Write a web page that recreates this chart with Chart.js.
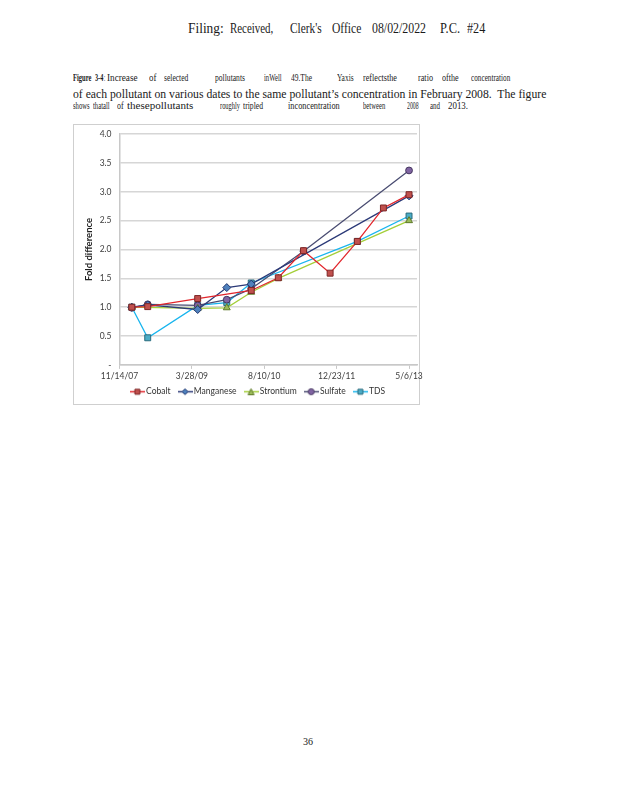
<!DOCTYPE html>
<html>
<head>
<meta charset="utf-8">
<script src="https://cdn.jsdelivr.net/npm/chart.js@4.4.1/dist/chart.umd.min.js"></script>
<style>
html, body { margin: 0; padding: 0; background: #fff; }
body { width: 618px; height: 800px; position: relative; overflow: hidden; font-family: "Liberation Serif", serif; color: #1a1a1a; }
.w { position: absolute; white-space: pre; transform-origin: 0 50%; line-height: 1; }
#box { position: absolute; left: 73px; top: 124px; width: 347px; height: 281px; border: 1px solid #cfcfcf; box-sizing: border-box; }
#wrap { position: absolute; left: 73px; top: 121px; width: 356px; height: 292.4px; }
</style>
</head>
<body>
<div id="box"></div>
<div id="wrap"><canvas id="chart"></canvas></div>
<script>
// sample dates and fold-difference values per pollutant
const sampleDates = ['2008-02-07', '2008-05-27', '2009-05-07', '2009-11-24', '2010-05-12', '2010-11-15',
                     '2011-05-08', '2011-11-08', '2012-05-14', '2012-11-10', '2013-05-06'];
const seriesNames = ['Cobalt', 'Manganese', 'Strontium', 'Sulfate', 'TDS'];
const cobalt    = [1.00, 1.01, 1.15, null, 1.29, 1.51, 1.98, 1.59, 2.14, 2.72, 2.95];
const manganese = [1.00, 1.04, 0.96, 1.34, 1.40, null, null, null, null, null, 2.93];
const strontium = [1.00, null, 0.98, 0.99, 1.26, 1.50, null, null, null, null, 2.50];
const sulfate   = [0.99, 1.05, 1.03, 1.13, 1.32, null, 1.97, null, null, null, 3.37];
const tds       = [1.00, 0.47, 1.03, 1.08, 1.42, null, null, null, 2.14, null, 2.58];
const seriesValues = [cobalt, manganese, strontium, sulfate, tds];

// axis settings
const axisStart = '2007-11-14';
const axisStepDays = 500;
const axisEndDays = 2055;
const yMax = 4;
const yStep = 0.5;

// look of each series
const seriesStyle = [
    { line: '#e2262c', fill: '#c0504d', edge: '#7d2727', shape: 'rect',     radius: 4.2 },
    { line: '#2c3a78', fill: '#4f81bd', edge: '#22376e', shape: 'rectRot',  radius: 4 },
    { line: '#a4cf3a', fill: '#9bbb59', edge: '#5f7a2a', shape: 'triangle', radius: 4 },
    { line: '#4a4d72', fill: '#8064a2', edge: '#45365f', shape: 'circle',   radius: 3.4 },
    { line: '#19b5ee', fill: '#4bacc6', edge: '#2a6b7d', shape: 'rect',     radius: 4.2 }
];

// page text: [text, left, right, bold]
const headerWords = [['Filing:', 188.3, 224], ['Received,', 230, 273.3], ["Clerk's", 290, 321.7], ['Office', 331.7, 361],
                     ['08/02/2022', 371.7, 425.7], ['P.C.', 440, 460], ['#24', 466.7, 485]];
const captionLine1 = [['Figure', 73.3, 91.7, 1], ['3-4', 95, 103.3, 1], [':', 104.3, 105.5], ['Increase', 106.7, 137.3],
                      ['of', 149.3, 156.7], ['selected', 164, 188.3], ['pollutants', 215, 245], ['inWell', 264, 281.7],
                      ['49.The', 290.7, 311.7], ['Yaxis', 336.7, 353.3], ['reflectsthe', 362.7, 396.7], ['ratio', 418.3, 433.3],
                      ['ofthe', 441.7, 458.3], ['concentration', 470.7, 510]];
const captionLine2 = [['of each pollutant on various dates to the same pollutant\u2019s concentration in February 2008.  The figure', 73.3, 546.7]];
const captionLine3 = [['shows', 73.3, 90], ['thatall', 93.3, 110], ['of', 116.7, 123.3], ['thesepollutants', 126.7, 193],
                      ['roughly', 220, 240], ['tripled', 243.3, 263.3], ['inconcentration', 288.3, 340], ['between', 362.7, 385],
                      ['2008', 406.7, 418.3], ['and', 430, 440], ['2013.', 448.3, 468.3]];
const pageNumber = [['36', 303, 313]];

function placeWords(words, yc, size) {
    words.forEach(([text, x0, x1, bold]) => {
        const s = document.createElement('span');
        s.className = 'w';
        s.textContent = text;
        s.style.fontSize = size + 'px';
        s.style.fontWeight = bold ? 'bold' : 'normal';
        s.style.left = x0 + 'px';
        s.style.top = (yc - size * 0.52) + 'px';
        document.body.appendChild(s);
        const w = s.getBoundingClientRect().width;
        s.style.transform = 'scaleX(' + ((x1 - x0) / w).toFixed(3) + ')';
    });
}
placeWords(headerWords, 29, 15);
placeWords(captionLine1, 78.3, 10.5);
placeWords(captionLine2, 94, 12.5);
placeWords(captionLine3, 105.7, 10);
placeWords(pageNumber, 742, 11);

const toDay = s => Math.round(Date.parse(s + 'T00:00:00Z') / 864e5);
const startDay = toDay(axisStart);
const xOffsets = sampleDates.map(d => toDay(d) - startDay);

function fmtDate(v) {
    const d = new Date((startDay + v) * 864e5);
    return (d.getUTCMonth() + 1) + '/' + d.getUTCDate() + '/' + String(d.getUTCFullYear()).slice(2);
}

// small line + marker picture for the legend
function legendIcon(st) {
    const c = document.createElement('canvas');
    c.width = 15; c.height = 9;
    const g = c.getContext('2d');
    g.strokeStyle = st.line; g.lineWidth = 1.5;
    g.beginPath(); g.moveTo(0, 4.5); g.lineTo(15, 4.5); g.stroke();
    g.fillStyle = st.fill; g.strokeStyle = st.edge; g.lineWidth = 1;
    g.beginPath();
    if (st.shape === 'rect') g.rect(5, 2, 5, 5);
    else if (st.shape === 'rectRot') { g.moveTo(7.5, 1.5); g.lineTo(10.5, 4.5); g.lineTo(7.5, 7.5); g.lineTo(4.5, 4.5); g.closePath(); }
    else if (st.shape === 'triangle') { g.moveTo(7.5, 1.5); g.lineTo(10.5, 7.5); g.lineTo(4.5, 7.5); g.closePath(); }
    else g.arc(7.5, 4.5, 3, 0, Math.PI * 2);
    g.fill(); g.stroke();
    return c;
}

const datasets = seriesNames.map((name, i) => {
    const st = seriesStyle[i];
    return {
        label: name,
        data: seriesValues[i].map((v, k) => ({ x: xOffsets[k], y: v })),
        borderColor: st.line,
        borderWidth: 1.3,
        backgroundColor: st.fill,
        pointStyle: st.shape,
        pointRadius: st.radius,
        pointBackgroundColor: st.fill,
        pointBorderColor: st.edge,
        pointBorderWidth: 1,
        spanGaps: true,
        tension: 0
    };
});

// nudge the legend so it sits where the original one does
const legendShift = {
    id: 'legendShift',
    afterLayout(chart) {
        const lg = chart.legend;
        lg.left += 14; lg.right += 14;
        lg.top -= 7.4; lg.bottom -= 7.4;
    }
};

Chart.defaults.font.family = 'Lato, "Open Sans", sans-serif';

new Chart(document.getElementById('chart'), {
    type: 'line',
    data: { datasets },
    plugins: [legendShift],
    options: {
        responsive: true,
        maintainAspectRatio: false,
        animation: false,
        layout: { padding: { top: 1.5, right: 12, left: 0, bottom: 0 } },
        scales: {
            x: {
                type: 'linear', min: 0, max: axisEndDays,
                afterFit: s => { s.height = 20; },
                afterBuildTicks: s => {
                    const t = [];
                    for (let v = 0; v <= s.max; v += axisStepDays) t.push({ value: v });
                    s.ticks = t;
                },
                ticks: { padding: 2, maxRotation: 0, autoSkip: false,
                         color: '#404040', font: { size: 8.5 }, callback: fmtDate },
                grid: { drawOnChartArea: false, drawTicks: true, tickLength: 4, color: '#c8c8c8', lineWidth: 1 },
                border: { color: '#c8c8c8', width: 1.5 }
            },
            y: {
                min: 0, max: yMax,
                afterFit: s => { s.width = 46.5; },
                ticks: { stepSize: yStep, padding: 8, color: '#404040', font: { size: 8.5 },
                         callback: v => v === 0 ? '-' : v.toFixed(1) },
                grid: { color: '#d6d6d6', lineWidth: 1.6, drawTicks: false },
                border: { color: '#c8c8c8', width: 1.5 },
                title: { display: true, text: 'Fold difference', color: '#222',
                         font: { size: 9.5, weight: 'bold' }, padding: { top: 10, bottom: 0 } }
            }
        },
        plugins: {
            tooltip: { enabled: false },
            legend: {
                position: 'bottom',
                labels: {
                    usePointStyle: true, pointStyleWidth: 9, padding: 10, color: '#333', font: { size: 8.5 },
                    generateLabels: chart => chart.data.datasets.map((ds, i) => ({
                        text: ds.label, pointStyle: legendIcon(seriesStyle[i]), fillStyle: seriesStyle[i].fill,
                        strokeStyle: seriesStyle[i].edge, lineWidth: 1, fontColor: '#333', datasetIndex: i, hidden: false
                    }))
                }
            }
        }
    }
});
</script>
</body>
</html>
